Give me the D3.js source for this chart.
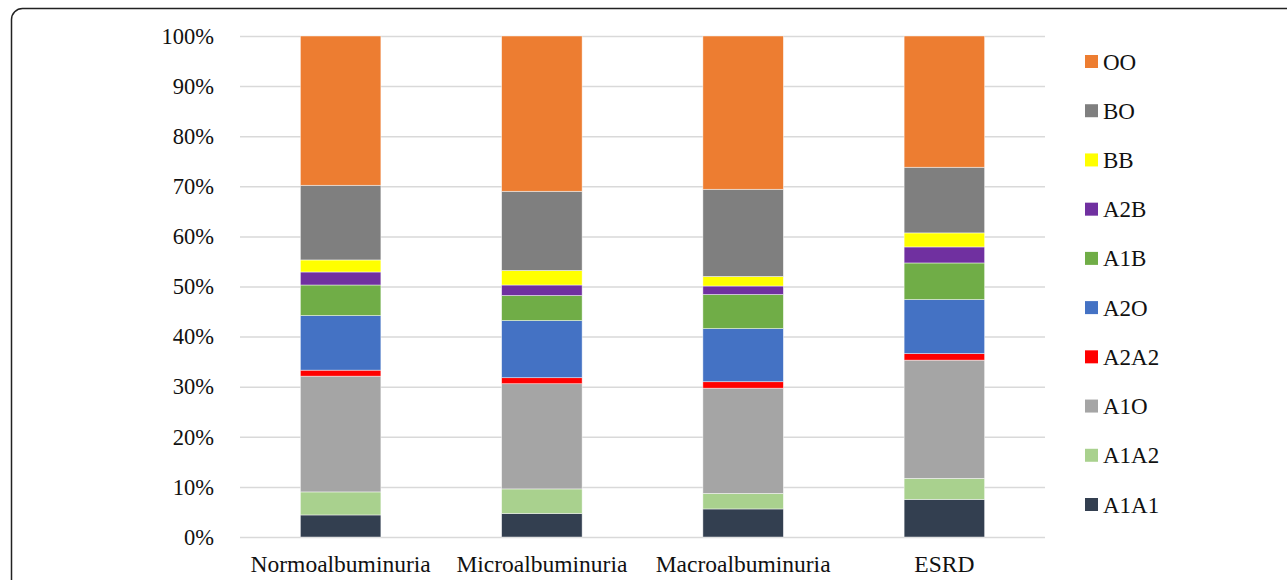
<!DOCTYPE html>
<html>
<head>
<meta charset="utf-8">
<script src="https://cdn.jsdelivr.net/npm/d3@7"></script>
<style>
  html, body { margin: 0; padding: 0; background: #fff; }
  svg { display: block; font-family: "Liberation Serif", "Times New Roman", serif; }
  .axis text { font-family: "Liberation Serif", "Times New Roman", serif; fill: #111; }
</style>
</head>
<body>
<div id="chart"></div>
<script>
const categories = ["Normoalbuminuria", "Microalbuminuria", "Macroalbuminuria", "ESRD"];

// stacking order, bottom to top
const seriesNames = ["A1A1", "A1A2", "A1O", "A2A2", "A2O", "A1B", "A2B", "BB", "BO", "OO"];
const seriesColors = ["#333f50", "#a9d18e", "#a5a5a5", "#ff0000", "#4472c4", "#70ad47", "#7030a0", "#ffff00", "#7f7f7f", "#ed7d31"];

// percent per category, same order as categories
const A1A1 = [4.4, 4.7, 5.6, 7.5];
const A1A2 = [4.6, 4.9, 3.1, 4.2];
const A1O  = [23.1, 21.0, 21.0, 23.6];
const A2A2 = [1.2, 1.2, 1.3, 1.3];
const A2O  = [10.9, 11.4, 10.6, 10.8];
const A1B  = [6.1, 5.0, 6.8, 7.3];
const A2B  = [2.6, 2.1, 1.7, 3.2];
const BB   = [2.4, 2.9, 1.9, 2.8];
const BO   = [14.9, 15.8, 17.4, 13.1];
const OO   = [29.8, 31.0, 30.6, 26.2];

const yTicks = [0, 10, 20, 30, 40, 50, 60, 70, 80, 90, 100];

const seriesValues = { A1A1, A1A2, A1O, A2A2, A2O, A1B, A2B, BB, BO, OO };

const rows = categories.map((c, i) => {
  const r = { cat: c };
  seriesNames.forEach(s => { r[s] = seriesValues[s][i]; });
  return r;
});

const width = 1287;
const height = 580;
const margin = { top: 36, right: 242, bottom: 43, left: 240 };
const innerWidth = width - margin.left - margin.right;
const innerHeight = height - margin.top - margin.bottom;

const svg = d3.select("#chart").append("svg")
  .attr("width", width)
  .attr("height", height);

// frame (runs off the right and bottom edges, as in the source)
svg.append("rect")
  .attr("x", 11.5)
  .attr("y", 8.5)
  .attr("width", 1320)
  .attr("height", 640)
  .attr("rx", 11)
  .attr("fill", "none")
  .attr("stroke", "#222")
  .attr("stroke-width", 1.5);

const g = svg.append("g").attr("transform", `translate(${margin.left},${margin.top})`);

const x = d3.scaleBand()
  .domain(categories)
  .range([0, innerWidth])
  .paddingInner(0.6)
  .paddingOuter(0.3);

const y = d3.scaleLinear()
  .domain([0, 100])
  .range([innerHeight, 0]);

const color = d3.scaleOrdinal().domain(seriesNames).range(seriesColors);

// Gridlines
g.append("g")
  .call(d3.axisLeft(y).tickValues(yTicks).tickSize(-innerWidth).tickFormat(""))
  .call(gg => gg.select(".domain").remove())
  .call(gg => gg.selectAll("line").attr("stroke", "#d9d9d9").attr("stroke-width", 1.5));

// Y axis labels
g.append("g")
  .attr("class", "axis")
  .call(d3.axisLeft(y).tickValues(yTicks).tickSize(0).tickPadding(26).tickFormat(d => d + "%"))
  .attr("font-family", null)
  .attr("font-size", 22.5)
  .call(gg => gg.select(".domain").remove());

// Bars
const stack = d3.stack().keys(seriesNames);
const layers = stack(rows);

g.selectAll(".layer")
  .data(layers)
  .join("g")
  .attr("class", "layer")
  .attr("fill", d => color(d.key))
  .selectAll("rect")
  .data(d => d)
  .join("rect")
  .attr("x", d => x(d.data.cat))
  .attr("width", x.bandwidth())
  .attr("y", d => y(d[1]))
  .attr("height", d => y(d[0]) - y(d[1]))
  .attr("stroke", "#ffffff")
  .attr("stroke-opacity", 0.6)
  .attr("stroke-width", 0.75);

// X axis labels
g.append("g")
  .attr("class", "axis")
  .attr("transform", `translate(0,${innerHeight})`)
  .call(d3.axisBottom(x).tickSize(0).tickPadding(18))
  .attr("font-family", null)
  .attr("font-size", 23.5)
  .call(gg => gg.select(".domain").remove());

// Legend, top entry = last series
const legendOrder = seriesNames.slice().reverse();
const ly = d3.scalePoint()
  .domain(legendOrder)
  .range([61.5, 504.5]);

const legend = svg.append("g").attr("class", "legend");
const item = legend.selectAll("g")
  .data(legendOrder)
  .join("g")
  .attr("transform", d => `translate(1085,${ly(d)})`);

item.append("rect")
  .attr("x", 0)
  .attr("y", -6.5)
  .attr("width", 13)
  .attr("height", 13)
  .attr("fill", d => color(d));

item.append("text")
  .attr("x", 18)
  .attr("y", 0)
  .attr("dy", "0.35em")
  .attr("font-size", 23)
  .attr("fill", "#111")
  .text(d => d);
</script>
</body>
</html>
